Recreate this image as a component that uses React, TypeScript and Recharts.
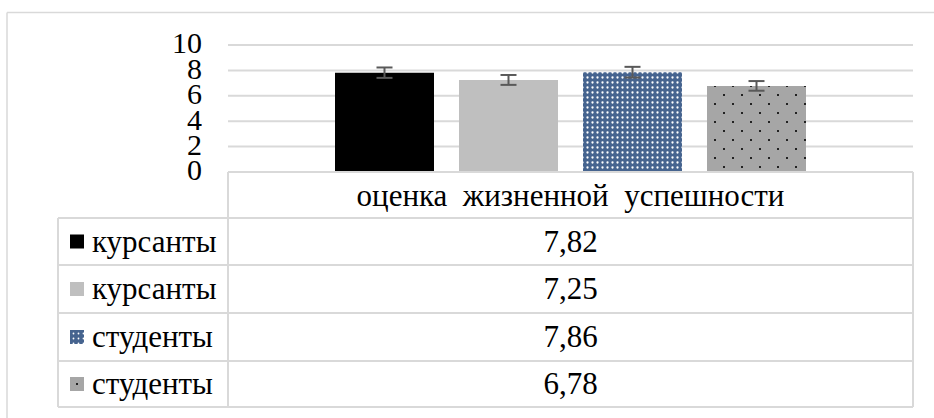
import React from 'react';
import { BarChart, Bar, XAxis, YAxis, CartesianGrid, ErrorBar } from 'recharts';

const categories = ['оценка  жизненной  успешности'];
const seriesNames = ['курсанты', 'курсанты', 'студенты', 'студенты'];
const seriesKeys = ['k1', 'k2', 's1', 's2'];
const seriesValues = [7.82, 7.25, 7.86, 6.78];
const seriesErrors = [0.41, 0.39, 0.42, 0.38];
const yTicks = [0, 2, 4, 6, 8, 10];

const fills = ['#000000', '#BFBFBF', 'url(#blueDots)', 'url(#grayDots)'];

const data = categories.map((c) => {
  const row: any = { cat: c };
  seriesKeys.forEach((k, i) => {
    row[k] = seriesValues[i];
    row[k + 'e'] = seriesErrors[i];
  });
  return row;
});

const FONT = 'Liberation Serif';
const W = 934;
const H = 418;
const PLOT_LEFT = 228;
const PLOT_RIGHT = 913;
const PLOT_TOP = 45;
const PLOT_BOTTOM = 172;
const TABLE_LEFT = 58;
const rowLines = [218, 265, 313, 361, 407];
const LINE = '#D9D9D9';

const YTick = (props: any) => {
  const { x, y, payload } = props;
  return (
    <foreignObject x={x - 100} y={y - 21.6} width={100} height={40}>
      <div
        style={{
          fontFamily: FONT,
          fontSize: 30,
          lineHeight: '40px',
          height: 40,
          textAlign: 'right',
          color: '#000',
          whiteSpace: 'nowrap',
        }}
      >
        {payload.value}
      </div>
    </foreignObject>
  );
};

const XTick = (props: any) => {
  const { x, payload } = props;
  const w = PLOT_RIGHT - PLOT_LEFT;
  return (
    <foreignObject x={x - w / 2} y={PLOT_BOTTOM} width={w} height={47}>
      <div
        style={{
          fontFamily: FONT,
          fontSize: 31,
          lineHeight: '47px',
          height: 47,
          textAlign: 'center',
          color: '#000',
          whiteSpace: 'pre',
        }}
      >
        {payload.value}
      </div>
    </foreignObject>
  );
};

const fmt = (v: number) => v.toFixed(2).replace('.', ',');

const LegendKey = ({ i, x, y }: { i: number; x: number; y: number }) => {
  const s = 14;
  if (i === 3) {
    return (
      <g>
        <rect x={x} y={y} width={s} height={s} fill="#A6A6A6" />
        <rect x={x + 6} y={y + 6} width={2} height={2} fill="#222" />
      </g>
    );
  }
  if (i === 2) {
    return <rect x={x} y={y} width={s} height={s} fill="url(#blueDotsKey)" />;
  }
  return <rect x={x} y={y} width={s} height={s} fill={fills[i]} />;
};

export default function App() {
  return (
    <div style={{ position: 'absolute', left: 0, top: 0, width: W, height: H, background: '#fff', fontFamily: FONT }}>
      <svg width={W} height={H} style={{ position: 'absolute', left: 0, top: 0 }}>
        <defs>
          <pattern id="blueDots" patternUnits="userSpaceOnUse" width={5} height={5}>
            <rect x={0} y={0} width={5} height={5} fill="#46648F" />
            <circle cx={2.5} cy={2.5} r={1.15} fill="#FFFFFF" />
          </pattern>
          <pattern id="blueDotsKey" patternUnits="userSpaceOnUse" width={5} height={5} x={1} y={1}>
            <rect x={0} y={0} width={5} height={5} fill="#46648F" />
            <circle cx={2.5} cy={2.5} r={0.9} fill="#FFFFFF" />
          </pattern>
          <pattern id="grayDots" patternUnits="userSpaceOnUse" width={18} height={18}>
            <rect x={0} y={0} width={18} height={18} fill="#A6A6A6" />
            <rect x={3} y={4} width={2} height={2} fill="#222222" />
            <rect x={12} y={13} width={2} height={2} fill="#222222" />
          </pattern>
        </defs>
      </svg>
      <div style={{ position: 'absolute', left: 0, top: 0 }}>
        <BarChart
          width={W}
          height={H}
          data={data}
          margin={{ top: PLOT_TOP, right: W - PLOT_RIGHT, bottom: H - PLOT_BOTTOM - 46, left: PLOT_LEFT - 60 }}
          barCategoryGap={107}
          barGap={25}
        >
          <CartesianGrid vertical={false} stroke={LINE} strokeWidth={2} />
          <XAxis
            dataKey="cat"
            height={46}
            axisLine={false}
            tickLine={false}
            tick={<XTick />}
            interval={0}
          />
          <YAxis
            width={60}
            domain={[0, 10]}
            ticks={yTicks}
            axisLine={false}
            tickLine={false}
            tickSize={0}
            tickMargin={26}
            tick={<YTick />}
            interval={0}
          />
          {seriesKeys.map((k, i) => (
            <Bar key={k} dataKey={k} fill={fills[i]} isAnimationActive={false}>
              <ErrorBar dataKey={k + 'e'} width={8} stroke="#595959" strokeWidth={2} />
            </Bar>
          ))}
        </BarChart>
      </div>
      <svg width={W} height={H} style={{ position: 'absolute', left: 0, top: 0, pointerEvents: 'none' }}>
        <line x1={7} y1={12.5} x2={W} y2={12.5} stroke={LINE} strokeWidth={1.5} />
        <line x1={7} y1={12.5} x2={7} y2={H} stroke={LINE} strokeWidth={1.5} />
        <line x1={PLOT_LEFT} y1={PLOT_BOTTOM} x2={PLOT_RIGHT} y2={PLOT_BOTTOM} stroke={LINE} strokeWidth={2} />
        <line x1={PLOT_LEFT} y1={PLOT_BOTTOM} x2={PLOT_LEFT} y2={rowLines[rowLines.length - 1]} stroke={LINE} strokeWidth={2} />
        <line x1={PLOT_RIGHT} y1={PLOT_BOTTOM} x2={PLOT_RIGHT} y2={rowLines[rowLines.length - 1]} stroke={LINE} strokeWidth={2} />
        <line x1={TABLE_LEFT} y1={rowLines[0]} x2={TABLE_LEFT} y2={rowLines[rowLines.length - 1]} stroke={LINE} strokeWidth={2} />
        {rowLines.map((y) => (
          <line key={y} x1={TABLE_LEFT} y1={y} x2={PLOT_RIGHT} y2={y} stroke={LINE} strokeWidth={2} />
        ))}
        {seriesNames.map((name, i) => {
          const cy = (rowLines[i] + rowLines[i + 1]) / 2;
          return <LegendKey key={i} i={i} x={70} y={cy - 7} />;
        })}
      </svg>
      {seriesNames.map((name, i) => {
        const top = rowLines[i];
        const h = rowLines[i + 1] - top;
        const common: React.CSSProperties = {
          position: 'absolute',
          top,
          height: h,
          lineHeight: h + 'px',
          fontFamily: FONT,
          fontSize: 31,
          color: '#000',
          whiteSpace: 'nowrap',
        };
        return (
          <React.Fragment key={i}>
            <div style={{ ...common, left: 92, width: PLOT_LEFT - 92 }}>{name}</div>
            <div style={{ ...common, left: PLOT_LEFT, width: PLOT_RIGHT - PLOT_LEFT, textAlign: 'center' }}>
              {fmt(seriesValues[i])}
            </div>
          </React.Fragment>
        );
      })}
    </div>
  );
}
